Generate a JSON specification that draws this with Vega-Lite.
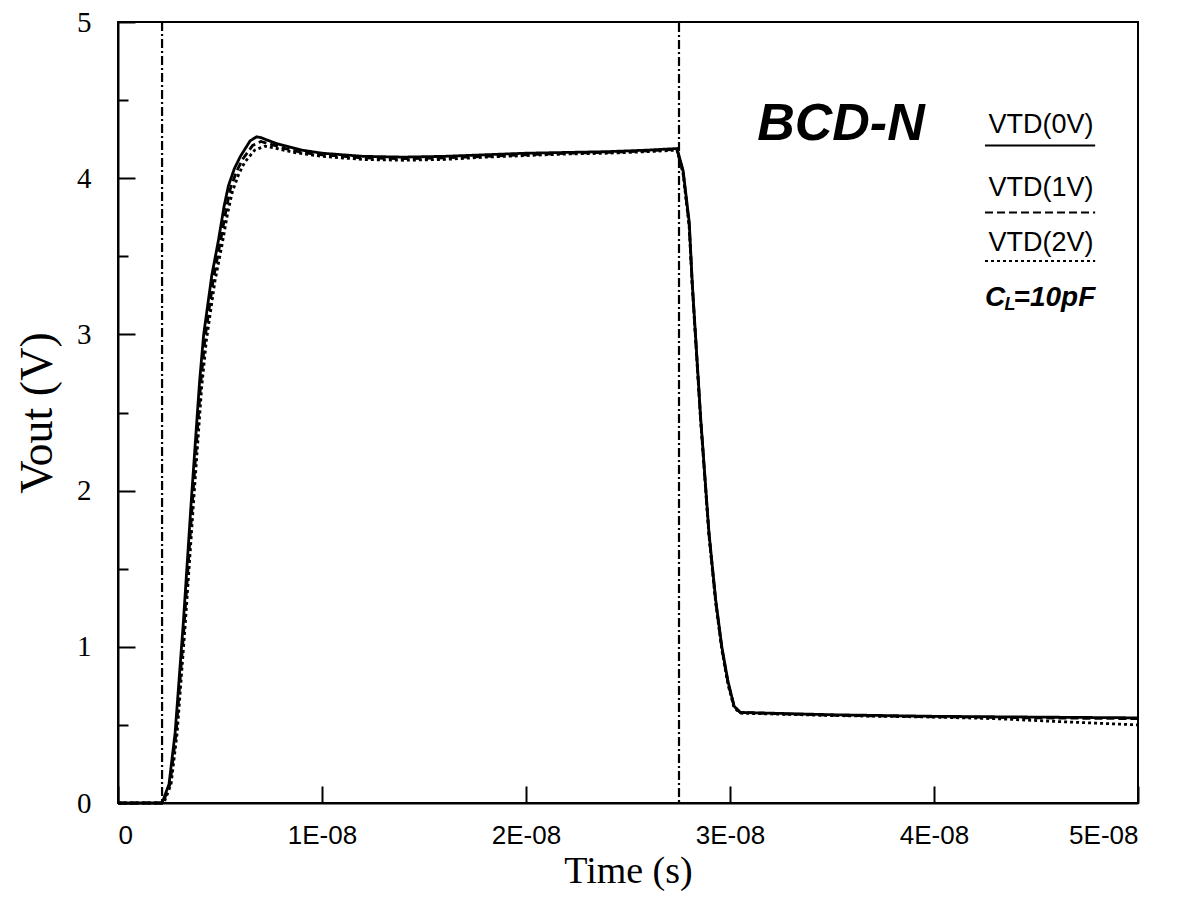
{
  "$schema": "https://vega.github.io/schema/vega-lite/v6.json",
  "width": 1020,
  "height": 781,
  "autosize": {"type": "none"},
  "padding": {"left": 118, "top": 22, "right": 50, "bottom": 94},
  "background": "white",
  "config": {
    "view": {"stroke": "black", "strokeWidth": 2},
    "axis": {"domainColor": "black", "domainWidth": 2, "tickColor": "black", "tickWidth": 2, "grid": false, "labelColor": "black", "titleColor": "black", "titleFontWeight": "normal"}
  },
  "datasets": {
    "curves": [
      {"t": 0, "v": 0, "s": "VTD(0V)"},
      {"t": 2.16e-9, "v": 0, "s": "VTD(0V)"},
      {"t": 2.5e-9, "v": 0.12, "s": "VTD(0V)"},
      {"t": 2.8e-9, "v": 0.45, "s": "VTD(0V)"},
      {"t": 3.2e-9, "v": 1.15, "s": "VTD(0V)"},
      {"t": 3.6e-9, "v": 1.95, "s": "VTD(0V)"},
      {"t": 4.0e-9, "v": 2.7, "s": "VTD(0V)"},
      {"t": 4.2e-9, "v": 3.0, "s": "VTD(0V)"},
      {"t": 4.6e-9, "v": 3.38, "s": "VTD(0V)"},
      {"t": 4.92e-9, "v": 3.6, "s": "VTD(0V)"},
      {"t": 5.2e-9, "v": 3.82, "s": "VTD(0V)"},
      {"t": 5.41e-9, "v": 3.95, "s": "VTD(0V)"},
      {"t": 5.7e-9, "v": 4.06, "s": "VTD(0V)"},
      {"t": 6.0e-9, "v": 4.14, "s": "VTD(0V)"},
      {"t": 6.48e-9, "v": 4.24, "s": "VTD(0V)"},
      {"t": 6.8e-9, "v": 4.265, "s": "VTD(0V)"},
      {"t": 7.0e-9, "v": 4.26, "s": "VTD(0V)"},
      {"t": 7.8e-9, "v": 4.22, "s": "VTD(0V)"},
      {"t": 9.0e-9, "v": 4.18, "s": "VTD(0V)"},
      {"t": 1.0e-8, "v": 4.16, "s": "VTD(0V)"},
      {"t": 1.2e-8, "v": 4.14, "s": "VTD(0V)"},
      {"t": 1.4e-8, "v": 4.135, "s": "VTD(0V)"},
      {"t": 1.6e-8, "v": 4.14, "s": "VTD(0V)"},
      {"t": 1.8e-8, "v": 4.15, "s": "VTD(0V)"},
      {"t": 2.0e-8, "v": 4.16, "s": "VTD(0V)"},
      {"t": 2.2e-8, "v": 4.165, "s": "VTD(0V)"},
      {"t": 2.4e-8, "v": 4.17, "s": "VTD(0V)"},
      {"t": 2.6e-8, "v": 4.18, "s": "VTD(0V)"},
      {"t": 2.74e-8, "v": 4.19, "s": "VTD(0V)"},
      {"t": 2.77e-8, "v": 4.05, "s": "VTD(0V)"},
      {"t": 2.8e-8, "v": 3.72, "s": "VTD(0V)"},
      {"t": 2.815e-8, "v": 3.33, "s": "VTD(0V)"},
      {"t": 2.856e-8, "v": 2.47, "s": "VTD(0V)"},
      {"t": 2.897e-8, "v": 1.73, "s": "VTD(0V)"},
      {"t": 2.93e-8, "v": 1.3, "s": "VTD(0V)"},
      {"t": 2.96e-8, "v": 1.0, "s": "VTD(0V)"},
      {"t": 2.99e-8, "v": 0.78, "s": "VTD(0V)"},
      {"t": 3.02e-8, "v": 0.62, "s": "VTD(0V)"},
      {"t": 3.05e-8, "v": 0.58, "s": "VTD(0V)"},
      {"t": 3.2e-8, "v": 0.575, "s": "VTD(0V)"},
      {"t": 3.5e-8, "v": 0.565, "s": "VTD(0V)"},
      {"t": 4.0e-8, "v": 0.555, "s": "VTD(0V)"},
      {"t": 4.5e-8, "v": 0.55, "s": "VTD(0V)"},
      {"t": 5.0e-8, "v": 0.545, "s": "VTD(0V)"},

      {"t": 0, "v": 0, "s": "VTD(1V)"},
      {"t": 2.2e-9, "v": 0, "s": "VTD(1V)"},
      {"t": 2.55e-9, "v": 0.12, "s": "VTD(1V)"},
      {"t": 2.85e-9, "v": 0.45, "s": "VTD(1V)"},
      {"t": 3.25e-9, "v": 1.15, "s": "VTD(1V)"},
      {"t": 3.65e-9, "v": 1.93, "s": "VTD(1V)"},
      {"t": 4.05e-9, "v": 2.68, "s": "VTD(1V)"},
      {"t": 4.27e-9, "v": 2.98, "s": "VTD(1V)"},
      {"t": 4.68e-9, "v": 3.36, "s": "VTD(1V)"},
      {"t": 5.0e-9, "v": 3.58, "s": "VTD(1V)"},
      {"t": 5.3e-9, "v": 3.8, "s": "VTD(1V)"},
      {"t": 5.5e-9, "v": 3.93, "s": "VTD(1V)"},
      {"t": 5.8e-9, "v": 4.04, "s": "VTD(1V)"},
      {"t": 6.1e-9, "v": 4.12, "s": "VTD(1V)"},
      {"t": 6.6e-9, "v": 4.21, "s": "VTD(1V)"},
      {"t": 7.0e-9, "v": 4.235, "s": "VTD(1V)"},
      {"t": 7.4e-9, "v": 4.22, "s": "VTD(1V)"},
      {"t": 8.2e-9, "v": 4.19, "s": "VTD(1V)"},
      {"t": 9.0e-9, "v": 4.165, "s": "VTD(1V)"},
      {"t": 1.0e-8, "v": 4.15, "s": "VTD(1V)"},
      {"t": 1.2e-8, "v": 4.13, "s": "VTD(1V)"},
      {"t": 1.4e-8, "v": 4.125, "s": "VTD(1V)"},
      {"t": 1.6e-8, "v": 4.13, "s": "VTD(1V)"},
      {"t": 1.8e-8, "v": 4.14, "s": "VTD(1V)"},
      {"t": 2.0e-8, "v": 4.15, "s": "VTD(1V)"},
      {"t": 2.2e-8, "v": 4.16, "s": "VTD(1V)"},
      {"t": 2.4e-8, "v": 4.165, "s": "VTD(1V)"},
      {"t": 2.6e-8, "v": 4.175, "s": "VTD(1V)"},
      {"t": 2.74e-8, "v": 4.185, "s": "VTD(1V)"},
      {"t": 2.77e-8, "v": 4.04, "s": "VTD(1V)"},
      {"t": 2.8e-8, "v": 3.7, "s": "VTD(1V)"},
      {"t": 2.815e-8, "v": 3.32, "s": "VTD(1V)"},
      {"t": 2.856e-8, "v": 2.46, "s": "VTD(1V)"},
      {"t": 2.897e-8, "v": 1.72, "s": "VTD(1V)"},
      {"t": 2.93e-8, "v": 1.29, "s": "VTD(1V)"},
      {"t": 2.96e-8, "v": 0.99, "s": "VTD(1V)"},
      {"t": 2.99e-8, "v": 0.77, "s": "VTD(1V)"},
      {"t": 3.02e-8, "v": 0.62, "s": "VTD(1V)"},
      {"t": 3.05e-8, "v": 0.58, "s": "VTD(1V)"},
      {"t": 3.2e-8, "v": 0.573, "s": "VTD(1V)"},
      {"t": 3.5e-8, "v": 0.562, "s": "VTD(1V)"},
      {"t": 4.0e-8, "v": 0.552, "s": "VTD(1V)"},
      {"t": 4.5e-8, "v": 0.545, "s": "VTD(1V)"},
      {"t": 5.0e-8, "v": 0.54, "s": "VTD(1V)"},

      {"t": 0, "v": 0, "s": "VTD(2V)"},
      {"t": 2.25e-9, "v": 0, "s": "VTD(2V)"},
      {"t": 2.6e-9, "v": 0.12, "s": "VTD(2V)"},
      {"t": 2.9e-9, "v": 0.45, "s": "VTD(2V)"},
      {"t": 3.3e-9, "v": 1.15, "s": "VTD(2V)"},
      {"t": 3.7e-9, "v": 1.92, "s": "VTD(2V)"},
      {"t": 4.1e-9, "v": 2.66, "s": "VTD(2V)"},
      {"t": 4.33e-9, "v": 2.96, "s": "VTD(2V)"},
      {"t": 4.75e-9, "v": 3.34, "s": "VTD(2V)"},
      {"t": 5.08e-9, "v": 3.56, "s": "VTD(2V)"},
      {"t": 5.38e-9, "v": 3.78, "s": "VTD(2V)"},
      {"t": 5.6e-9, "v": 3.91, "s": "VTD(2V)"},
      {"t": 5.9e-9, "v": 4.02, "s": "VTD(2V)"},
      {"t": 6.2e-9, "v": 4.1, "s": "VTD(2V)"},
      {"t": 6.7e-9, "v": 4.18, "s": "VTD(2V)"},
      {"t": 7.2e-9, "v": 4.205, "s": "VTD(2V)"},
      {"t": 7.8e-9, "v": 4.19, "s": "VTD(2V)"},
      {"t": 8.6e-9, "v": 4.165, "s": "VTD(2V)"},
      {"t": 1.0e-8, "v": 4.14, "s": "VTD(2V)"},
      {"t": 1.2e-8, "v": 4.12, "s": "VTD(2V)"},
      {"t": 1.4e-8, "v": 4.115, "s": "VTD(2V)"},
      {"t": 1.6e-8, "v": 4.12, "s": "VTD(2V)"},
      {"t": 1.8e-8, "v": 4.135, "s": "VTD(2V)"},
      {"t": 2.0e-8, "v": 4.145, "s": "VTD(2V)"},
      {"t": 2.2e-8, "v": 4.155, "s": "VTD(2V)"},
      {"t": 2.4e-8, "v": 4.16, "s": "VTD(2V)"},
      {"t": 2.6e-8, "v": 4.17, "s": "VTD(2V)"},
      {"t": 2.74e-8, "v": 4.18, "s": "VTD(2V)"},
      {"t": 2.77e-8, "v": 4.03, "s": "VTD(2V)"},
      {"t": 2.8e-8, "v": 3.69, "s": "VTD(2V)"},
      {"t": 2.815e-8, "v": 3.31, "s": "VTD(2V)"},
      {"t": 2.856e-8, "v": 2.45, "s": "VTD(2V)"},
      {"t": 2.897e-8, "v": 1.71, "s": "VTD(2V)"},
      {"t": 2.93e-8, "v": 1.28, "s": "VTD(2V)"},
      {"t": 2.96e-8, "v": 0.98, "s": "VTD(2V)"},
      {"t": 2.99e-8, "v": 0.76, "s": "VTD(2V)"},
      {"t": 3.02e-8, "v": 0.61, "s": "VTD(2V)"},
      {"t": 3.05e-8, "v": 0.575, "s": "VTD(2V)"},
      {"t": 3.2e-8, "v": 0.57, "s": "VTD(2V)"},
      {"t": 3.5e-8, "v": 0.56, "s": "VTD(2V)"},
      {"t": 4.0e-8, "v": 0.55, "s": "VTD(2V)"},
      {"t": 4.3e-8, "v": 0.54, "s": "VTD(2V)"},
      {"t": 4.6e-8, "v": 0.522, "s": "VTD(2V)"},
      {"t": 5.0e-8, "v": 0.5, "s": "VTD(2V)"}
    ],
    "pulse": [
      {"t": 0, "v": 0},
      {"t": 2.16e-9, "v": 0},
      {"t": 2.16e-9, "v": 5},
      {"t": 2.75e-8, "v": 5},
      {"t": 2.75e-8, "v": 0},
      {"t": 5.0e-8, "v": 0}
    ],
    "legend": [
      {"s": "VTD(0V)", "ty": 4.34, "ly": 4.21},
      {"s": "VTD(1V)", "ty": 3.94, "ly": 3.78},
      {"s": "VTD(2V)", "ty": 3.585, "ly": 3.47}
    ],
    "notes": [
      {"txt": "BCD-N", "t": 3.544e-8, "v": 4.35}
    ],
    "cl": [
      {"part": "C", "t": 4.25e-8, "v": 3.23},
      {"part": "=10pF", "t": 4.39e-8, "v": 3.23}
    ],
    "clsub": [
      {"part": "L", "t": 4.345e-8, "v": 3.23}
    ]
  },
  "layer": [
    {
      "data": {"name": "pulse"},
      "mark": {"type": "line", "color": "black", "strokeWidth": 2.2, "strokeDash": [9, 3, 2, 3]},
      "encoding": {
        "x": {"field": "t", "type": "quantitative", "scale": {"domain": [0, 5e-8], "nice": false},
          "axis": {"values": [0, 1e-8, 2e-8, 3e-8, 4e-8, 5e-8], "labelExpr": "datum.value == 0 ? '0' : round(datum.value * 1e8) + 'E-08'",
            "tickSize": -17, "labelPadding": 36, "labelFont": "Liberation Sans", "labelFontSize": 26,
            "title": "Time (s)", "titleFont": "Liberation Serif", "titleFontSize": 38, "titlePadding": 4}},
        "y": {"field": "v", "type": "quantitative", "scale": {"domain": [0, 5], "nice": false},
          "axis": {"values": [0, 0.5, 1, 1.5, 2, 2.5, 3, 3.5, 4, 4.5, 5],
            "labelExpr": "datum.value % 1 === 0 ? format(datum.value, 'd') : ''",
            "tickSize": {"condition": {"test": "datum.value % 1 !== 0", "value": -10}, "value": -17},
            "labelPadding": 44, "labelFont": "Liberation Serif", "labelFontSize": 29,
            "title": "Vout (V)", "titleFont": "Liberation Serif", "titleFontSize": 46, "titlePadding": 15}}
      }
    },
    {
      "data": {"name": "curves"},
      "mark": {"type": "line", "color": "black", "strokeWidth": 2.8},
      "encoding": {
        "x": {"field": "t", "type": "quantitative"},
        "y": {"field": "v", "type": "quantitative"},
        "detail": {"field": "s"},
        "strokeDash": {"field": "s", "type": "nominal", "legend": null,
          "scale": {"domain": ["VTD(0V)", "VTD(1V)", "VTD(2V)"], "range": [[1, 0], [8, 4], [3, 3]]}}
      }
    },
    {
      "data": {"name": "legend"},
      "mark": {"type": "text", "font": "Liberation Sans", "fontSize": 27, "align": "center", "baseline": "middle", "color": "black"},
      "encoding": {
        "x": {"datum": 4.525e-8, "type": "quantitative"},
        "y": {"field": "ty", "type": "quantitative"},
        "text": {"field": "s"}
      }
    },
    {
      "data": {"name": "legend"},
      "mark": {"type": "rule", "color": "black", "strokeWidth": 2},
      "encoding": {
        "x": {"datum": 4.25e-8, "type": "quantitative"},
        "x2": {"datum": 4.79e-8},
        "y": {"field": "ly", "type": "quantitative"},
        "strokeDash": {"field": "s", "type": "nominal", "legend": null,
          "scale": {"domain": ["VTD(0V)", "VTD(1V)", "VTD(2V)"], "range": [[1, 0], [8, 4], [3, 3]]}}
      }
    },
    {
      "data": {"name": "notes"},
      "mark": {"type": "text", "font": "Liberation Sans", "fontSize": 52, "fontWeight": "bold", "fontStyle": "italic", "align": "center", "baseline": "middle", "color": "black"},
      "encoding": {"x": {"field": "t", "type": "quantitative"}, "y": {"field": "v", "type": "quantitative"}, "text": {"field": "txt"}}
    },
    {
      "data": {"name": "cl"},
      "mark": {"type": "text", "font": "Liberation Sans", "fontSize": 28, "fontWeight": "bold", "fontStyle": "italic", "align": "left", "baseline": "middle", "color": "black"},
      "encoding": {"x": {"field": "t", "type": "quantitative"}, "y": {"field": "v", "type": "quantitative"}, "text": {"field": "part"}}
    },
    {
      "data": {"name": "clsub"},
      "mark": {"type": "text", "font": "Liberation Sans", "fontSize": 18, "fontWeight": "bold", "fontStyle": "italic", "align": "left", "baseline": "middle", "color": "black", "dy": 7},
      "encoding": {"x": {"field": "t", "type": "quantitative"}, "y": {"field": "v", "type": "quantitative"}, "text": {"field": "part"}}
    }
  ]
}
